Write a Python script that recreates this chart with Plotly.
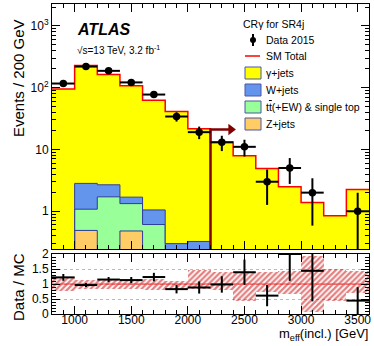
import numpy as np
import plotly.graph_objects as go
from plotly.subplots import make_subplots

#------------------------------------------------------------------------------
# Binning in m_eff(incl.) [GeV]
bin_edges  = [800, 1000, 1200, 1400, 1600, 1800, 2000, 2200,
              2400, 2600, 2800, 3000, 3200, 3400, 3600]
bin_center = [900, 1100, 1300, 1500, 1700, 1900, 2100, 2300,
              2500, 2700, 2900, 3100, 3300, 3500]

# Data 2015 (0 = empty bin)
data_2015  = [116, 218, 186, 121, 77, 34, 19, 13, 11, 3, 5, 2, 0, 1]

# Background stack (0 = not visible)
z_jets     = [0, 0.49, 0, 0.48, 0, 0, 0, 0, 0, 0, 0, 0, 0, 0]
ttbar      = [0, 0.59, 1.71, 0.85, 0.61, 0, 0, 0, 0, 0, 0, 0, 0, 0]
w_jets     = [0, 1.74, 0.97, 0.36, 0.44, 0.30, 0.325, 0, 0, 0, 0, 0, 0, 0]
sm_total   = [95, 226, 162, 107, 62.5, 41, 21.5, 13.2, 7.9, 4.9, 2.5, 1.39, 0.85, 2.24]

# Relative MC uncertainty band in the ratio (down, up)
band_lo    = [0.78, 0.82, 0.85, 0.85, 0.80, 0.85, 0.82, 0.80, 0.42, 0.72, 0.68, 0.06, 0.45, 0.70]
band_hi    = [1.22, 1.12, 1.12, 1.12, 1.16, 1.10, 1.47, 1.40, 1.40, 1.40, 1.45, 1.94, 1.50, 1.45]

# Tick labels
main_yvals = [1, 10, 100, 1000]
main_ytext = ["1", "10", "10<sup>2</sup>", "10<sup>3</sup>"]
ratio_yvals = [0, 0.5, 1, 1.5, 2]
ratio_ytext = ["0", "0.5", "1", "1.5", "2"]

meff_cut = 2200
arrow_y  = 21

#------------------------------------------------------------------------------
W, H = 374, 346
ml, mr, mt, mb = 52, 5, 4, 32
pw, ph = W - ml - mr, H - mt - mb
font = "Liberation Sans, Arial, sans-serif"

def px(x, y):
    # pixel -> paper coordinates
    return (x - ml) / pw, 1 - (y - mt) / ph

def steps(vals, floor = 1e-2):
    v = [max(a, floor) for a in vals]
    return bin_edges, v + [v[-1]]

cum1 = np.array(z_jets)
cum2 = cum1 + np.array(ttbar)
cum3 = cum2 + np.array(w_jets)

fig = make_subplots(rows = 2, cols = 1, shared_xaxes = True)

line_blue = "#2b3a9a"
# baseline
xs, ys = steps([0] * 14)
fig.add_trace(go.Scatter(x = xs, y = ys, mode = "lines", line = dict(width = 0, shape = "hv"),
                         showlegend = False, hoverinfo = "skip"), row = 1, col = 1)
for cum, col in [(cum1, "#ffcc66"), (cum2, "#99ff99"), (cum3, "#6495ed")]:
    xs, ys = steps(list(cum))
    fig.add_trace(go.Scatter(x = xs, y = ys, mode = "lines", fill = "tonexty", fillcolor = col,
                             line = dict(color = line_blue, width = 1, shape = "hv"),
                             showlegend = False, hoverinfo = "skip"), row = 1, col = 1)
xs, ys = steps(sm_total)
fig.add_trace(go.Scatter(x = xs, y = ys, mode = "lines", fill = "tonexty", fillcolor = "#ffff00",
                         line = dict(color = "#ff0000", width = 1.5, shape = "hv"),
                         showlegend = False, hoverinfo = "skip"), row = 1, col = 1)

# cut arrow
fig.add_trace(go.Scatter(x = [meff_cut, meff_cut, meff_cut + 180], y = [0.01, arrow_y, arrow_y],
                         mode = "lines", line = dict(color = "#800000", width = 2.5),
                         showlegend = False, hoverinfo = "skip"), row = 1, col = 1)
fig.add_trace(go.Scatter(x = [meff_cut + 180], y = [arrow_y], mode = "markers",
                         marker = dict(symbol = "triangle-right", size = 10, color = "#800000"),
                         showlegend = False, hoverinfo = "skip"), row = 1, col = 1)

# data
d = np.array(data_2015, dtype = float)
mask = d > 0
dx = np.array(bin_center)[mask]
dy = d[mask]
fig.add_trace(go.Scatter(x = dx, y = dy, mode = "markers",
                         marker = dict(color = "black", size = 7.5),
                         error_y = dict(type = "data", array = np.sqrt(dy), color = "black", thickness = 2, width = 0),
                         error_x = dict(type = "constant", value = 100, color = "black", thickness = 2, width = 0),
                         showlegend = False), row = 1, col = 1)

# ratio panel
mc = np.array(sm_total)
lo = np.array(band_lo)
hi = np.array(band_hi)
fig.add_trace(go.Bar(x = bin_center, y = hi - lo, base = lo, width = 200,
                     marker = dict(color = "rgba(0,0,0,0)", line = dict(width = 0),
                                   pattern = dict(shape = "/", fgcolor = "#c80000", size = 4, solidity = 0.55)),
                     showlegend = False, hoverinfo = "skip"), row = 2, col = 1)
fig.add_trace(go.Scatter(x = [bin_edges[0], bin_edges[-1]], y = [1, 1], mode = "lines",
                         line = dict(color = "#ff3333", width = 1),
                         showlegend = False, hoverinfo = "skip"), row = 2, col = 1)
ratio = dy / mc[mask]
fig.add_trace(go.Scatter(x = dx, y = ratio, mode = "markers",
                         marker = dict(color = "black", size = 1),
                         error_y = dict(type = "data", array = np.sqrt(dy) / mc[mask], color = "black", thickness = 2, width = 0),
                         error_x = dict(type = "constant", value = 100, color = "black", thickness = 2, width = 0),
                         showlegend = False), row = 2, col = 1)

#------------------------------------------------------------------------------
axis_style = dict(showline = True, linecolor = "black", linewidth = 1, mirror = "ticks",
                  ticks = "inside", ticklen = 8, tickcolor = "black", showgrid = False, zeroline = False,
                  automargin = False,
                  tickfont = dict(family = font, size = 12, color = "black"))
main_bot = 1 - (249 - mt) / ph
ratio_top = 1 - (254 - mt) / ph

fig.update_xaxes(**axis_style, range = [800, 3600], tick0 = 1000, dtick = 500, ticklabelstandoff = -5,
                 minor = dict(ticks = "inside", ticklen = 4, dtick = 100, tickcolor = "black"))
fig.update_xaxes(showticklabels = False, row = 1, col = 1)
fig.update_yaxes(**axis_style)
fig.update_yaxes(type = "log", range = [-0.61, 3.35], tickvals = main_yvals, ticktext = main_ytext,
                 minor = dict(ticks = "inside", ticklen = 4, tickcolor = "black",
                              tickvals = [m * 10 ** e for e in range(-1, 4) for m in range(2, 10)]),
                 domain = [main_bot, 1], row = 1, col = 1)
fig.update_yaxes(range = [0, 2], tickvals = ratio_yvals, ticktext = ratio_ytext,
                 showgrid = True, gridcolor = "#bbbbbb", griddash = "dot", gridwidth = 1,
                 minor = dict(ticks = "inside", ticklen = 4, dtick = 0.1, tickcolor = "black"),
                 domain = [0, ratio_top], row = 2, col = 1)
fig.update_xaxes(domain = [0, 1])

ann = []
def text(x, y, s, size = 11, anchor = "left", **kw):
    xp, yp = px(x, y)
    ann.append(dict(x = xp, y = yp, xref = "paper", yref = "paper", text = s, showarrow = False,
                    xanchor = anchor, yanchor = "middle", font = dict(family = font, size = size, color = "black"), **kw))

text(75, 29, "<b><i>ATLAS</i></b>", size = 16)
text(75, 50, "√s=13 TeV, 3.2 fb<sup>-1</sup>", size = 10)
text(18, 78, "Events / 200 GeV", size = 15, anchor = "center", textangle = -90)
text(18, 287, "Data / MC", size = 15, anchor = "center", textangle = -90)
text(370, 335, "m<sub>eff</sub>(incl.) [GeV]", size = 13, anchor = "right")

# legend
text(241, 24, "CRγ for SR4j", size = 10.5)
leg = [("Data 2015", None), ("SM Total", None), ("γ+jets", "#ffff00"), ("W+jets", "#6495ed"),
       ("t<span style='text-decoration:overline'>t</span>(+EW) & single top", "#99ff99"), ("Z+jets", "#ffcc66")]
ys_leg = [40, 56, 73, 90, 107, 124]
shapes = []
for (lab, col), yy in zip(leg, ys_leg):
    text(264, yy, lab, size = 10.5)
    if col is not None:
        x0, y0 = px(245, yy - 6)
        x1, y1 = px(261, yy + 6)
        shapes.append(dict(type = "rect", xref = "paper", yref = "paper", x0 = x0, x1 = x1, y0 = y0, y1 = y1,
                           fillcolor = col, line = dict(color = "#4a56a6", width = 1)))
x0, y0 = px(245, 56); x1, _ = px(260, 56)
shapes.append(dict(type = "line", xref = "paper", yref = "paper", x0 = x0, x1 = x1, y0 = y0, y1 = y0,
                   line = dict(color = "#ff0000", width = 1.5)))
x0, y0 = px(253, 34); _, y1 = px(253, 46)
shapes.append(dict(type = "line", xref = "paper", yref = "paper", x0 = x0, x1 = x0, y0 = y0, y1 = y1,
                   line = dict(color = "black", width = 2)))
xa, ya = px(250, 37); xb, yb = px(256, 43)
shapes.append(dict(type = "circle", xref = "paper", yref = "paper", x0 = xa, x1 = xb, y0 = ya, y1 = yb,
                   fillcolor = "black", line = dict(color = "black", width = 0)))

fig.update_layout(width = W, height = H, margin = dict(l = ml, r = mr, t = mt, b = mb),
                  plot_bgcolor = "white", paper_bgcolor = "white", bargap = 0,
                  annotations = ann, shapes = shapes, showlegend = False,
                  font = dict(family = font, color = "black"))

# page body has a default margin; drop it so the figure fills the window
fig.write_html("out.html", config = {"displayModeBar": False},
               post_script = "document.body.style.margin = '0';")
